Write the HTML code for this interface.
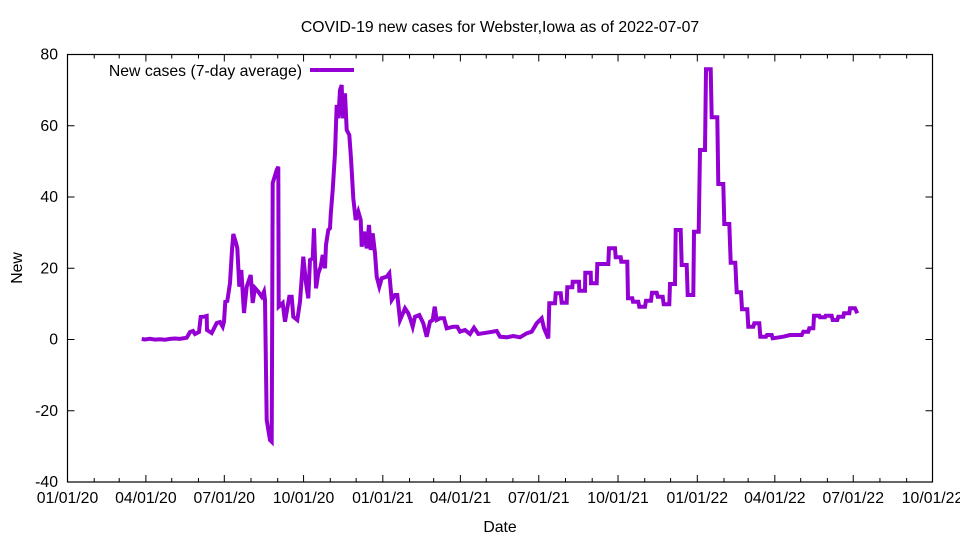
<!DOCTYPE html>
<html><head><meta charset="utf-8"><style>
body{margin:0;background:#fff}
svg{display:block;font-family:"Liberation Sans",sans-serif}
</style></head><body>
<svg id="s" width="960" height="540" viewBox="0 0 960 540" xmlns="http://www.w3.org/2000/svg">
<rect width="960" height="540" fill="#fff"/>
<text x="500" y="32" font-size="15.8" text-anchor="middle">COVID-19 new cases for Webster,Iowa as of 2022-07-07</text>
<g id="ticks" stroke="#000" stroke-width="1"></g>
<g id="labels" font-size="15.8"></g>
<text x="500" y="532" font-size="15.8" text-anchor="middle">Date</text>
<text transform="translate(22,268) rotate(-90)" font-size="15.8" text-anchor="middle">New</text>
<text x="302" y="76" font-size="15.8" text-anchor="end">New cases (7-day average)</text>
<line x1="310" y1="70" x2="354" y2="70" stroke="#9400d3" stroke-width="4"/>
<polyline fill="none" stroke="#9400d3" stroke-width="4" stroke-linejoin="miter" points="141.7,339 145,339.5 150,338.8 155,339.6 160,339.2 165,339.7 170,338.9 175,338.5 180,338.9 186.7,337.7 190,332 193,331 195,334 199,332 200.7,317 204,316.7 206.7,316 207,330 211.7,333 216.7,323 220,322 222.7,326.7 224,321.7 225.3,301.7 227.3,301 230,283 232,250 233.3,234 236,243 237.3,248 239.3,286.7 241.3,270 244,313 246.7,286.7 250.7,275 252.7,303 255,288 258.3,291.7 261.7,296.7 264,291.7 265,300 266.7,420 270,440 271.7,441.7 272.7,183 276.7,170 278.3,166.7 278.7,306.7 282.7,303 285,321.7 289.3,296.7 291.7,296.7 293.3,316.7 297.3,320 300,301.7 303.3,256.7 306,283 308.3,298.3 310,260 312.7,258.3 314,228.3 316,288.3 318.3,273.3 320.7,266.7 322.7,255 325,268.3 326,245 328.3,230 330,228.3 330.7,215 332.7,190 335,153.3 336.7,105 338.3,118.3 340,90 341.7,85 342.7,118.3 345,93.3 346.7,130 349.3,135 351,158.3 353.3,198.3 355.7,220 358.3,211.7 360.7,220 361.7,246.7 364,231.7 366.7,248.3 369,225 370.7,250 372.7,233.3 375,253.3 376.7,276.7 379.3,286.7 381.7,278.3 386.7,276.7 389.3,273.3 391.7,300 395,295 397.3,295 400,320 405,308.3 408.3,313.3 410.7,320 412.7,326.7 415,316.7 419.3,315 423.3,323.3 426.7,336.7 430,321.7 432.7,320 434.7,306.7 436.7,320 440,318.3 444,318.3 446.7,328.3 453.3,326.7 457.3,326.7 460,331.7 465,330 470,334 474,327.7 478.3,334 486.7,332.7 496.7,331 500,336.7 506.7,337.3 513.3,336 520,337.3 526.7,333.3 531.7,331.7 536.7,323.3 541.7,318.3 544,328.3 548.3,338.3 549.3,303.3 555,303.3 555.7,293.3 560.7,293.3 561.7,302.7 566.7,302.7 567.3,287.3 572.3,287.3 572.7,281.7 579,281.7 579.3,290.7 585,290.7 585.3,272.7 590.7,272.7 591,283.3 596.7,283.3 597.3,264 608.3,264 609,248.3 615,248.3 615.7,257.3 620.7,257.3 621.3,261.7 627.3,261.7 628,298.3 632.3,298.3 633,301.7 638.3,301.7 639.3,306.7 645,306.7 646,300.7 651,300.7 652,292.7 656.7,292.7 657.7,296.7 662.7,296.7 663.7,304.3 669.3,304.3 670,284 675,284 675.7,230 680.7,230 681.7,265 686.7,265 687.7,295 693.3,295 694,231.7 698.7,231.7 700,150 705,150 706,69.3 710.7,69.3 711.7,117.3 717.3,117.3 718.3,184 723.3,184 724.3,224 729.3,224 730.7,262.7 735.3,262.7 736.7,292.3 741,292.3 742,309.3 747.3,309.3 748.3,326.7 753.3,326.7 754.3,323.3 759.3,323.3 760.3,336.7 766,336.7 767,335 771.7,335 772.7,338.3 783.3,336.7 790,335 801.7,335 803.3,331.7 808.3,331.7 809.3,328.3 813.3,328.3 814,315.7 819.3,315.7 820,317.3 825,317.3 825.7,315.7 831.7,315.7 832.7,320 837.3,320 838.3,316.7 843.3,316.7 844,313.3 849.3,313.3 850,308.3 855,308.3 857.3,313.3"/>
<rect x="67.5" y="54.5" width="865" height="427.5" fill="none" stroke="#000" stroke-width="1.2"/>
</svg>
<script>
var T=document.getElementById('ticks'),L=document.getElementById('labels'),ns="http://www.w3.org/2000/svg";
function ln(x1,y1,x2,y2){var e=document.createElementNS(ns,'line');e.setAttribute('x1',x1);e.setAttribute('y1',y1);e.setAttribute('x2',x2);e.setAttribute('y2',y2);T.appendChild(e);}
function tx(x,y,s,a){var e=document.createElementNS(ns,'text');e.setAttribute('x',x);e.setAttribute('y',y);e.setAttribute('text-anchor',a);e.textContent=s;L.appendChild(e);}
var x0=67.5,sc=865/1004,t0=Date.UTC(2020,0,1);
for(var m=0;m<=33;m++){var d=(Date.UTC(2020,m,1)-t0)/864e5,x=x0+d*sc,maj=m%3==0,len=maj?7:4;
ln(x,482,x,482-len);ln(x,54.5,x,54.5+len);
if(maj){var yr=2020+Math.floor(m/12),mo=m%12+1;tx(x,503,(mo<10?'0':'')+mo+'/01/'+(yr%100),'middle');}}
for(var v=-40;v<=80;v+=20){var y=54.5+(80-v)*427.5/120;ln(67.5,y,74.5,y);ln(932.5,y,925.5,y);tx(58,y+5,v,'end');}
</script>
</body></html>
